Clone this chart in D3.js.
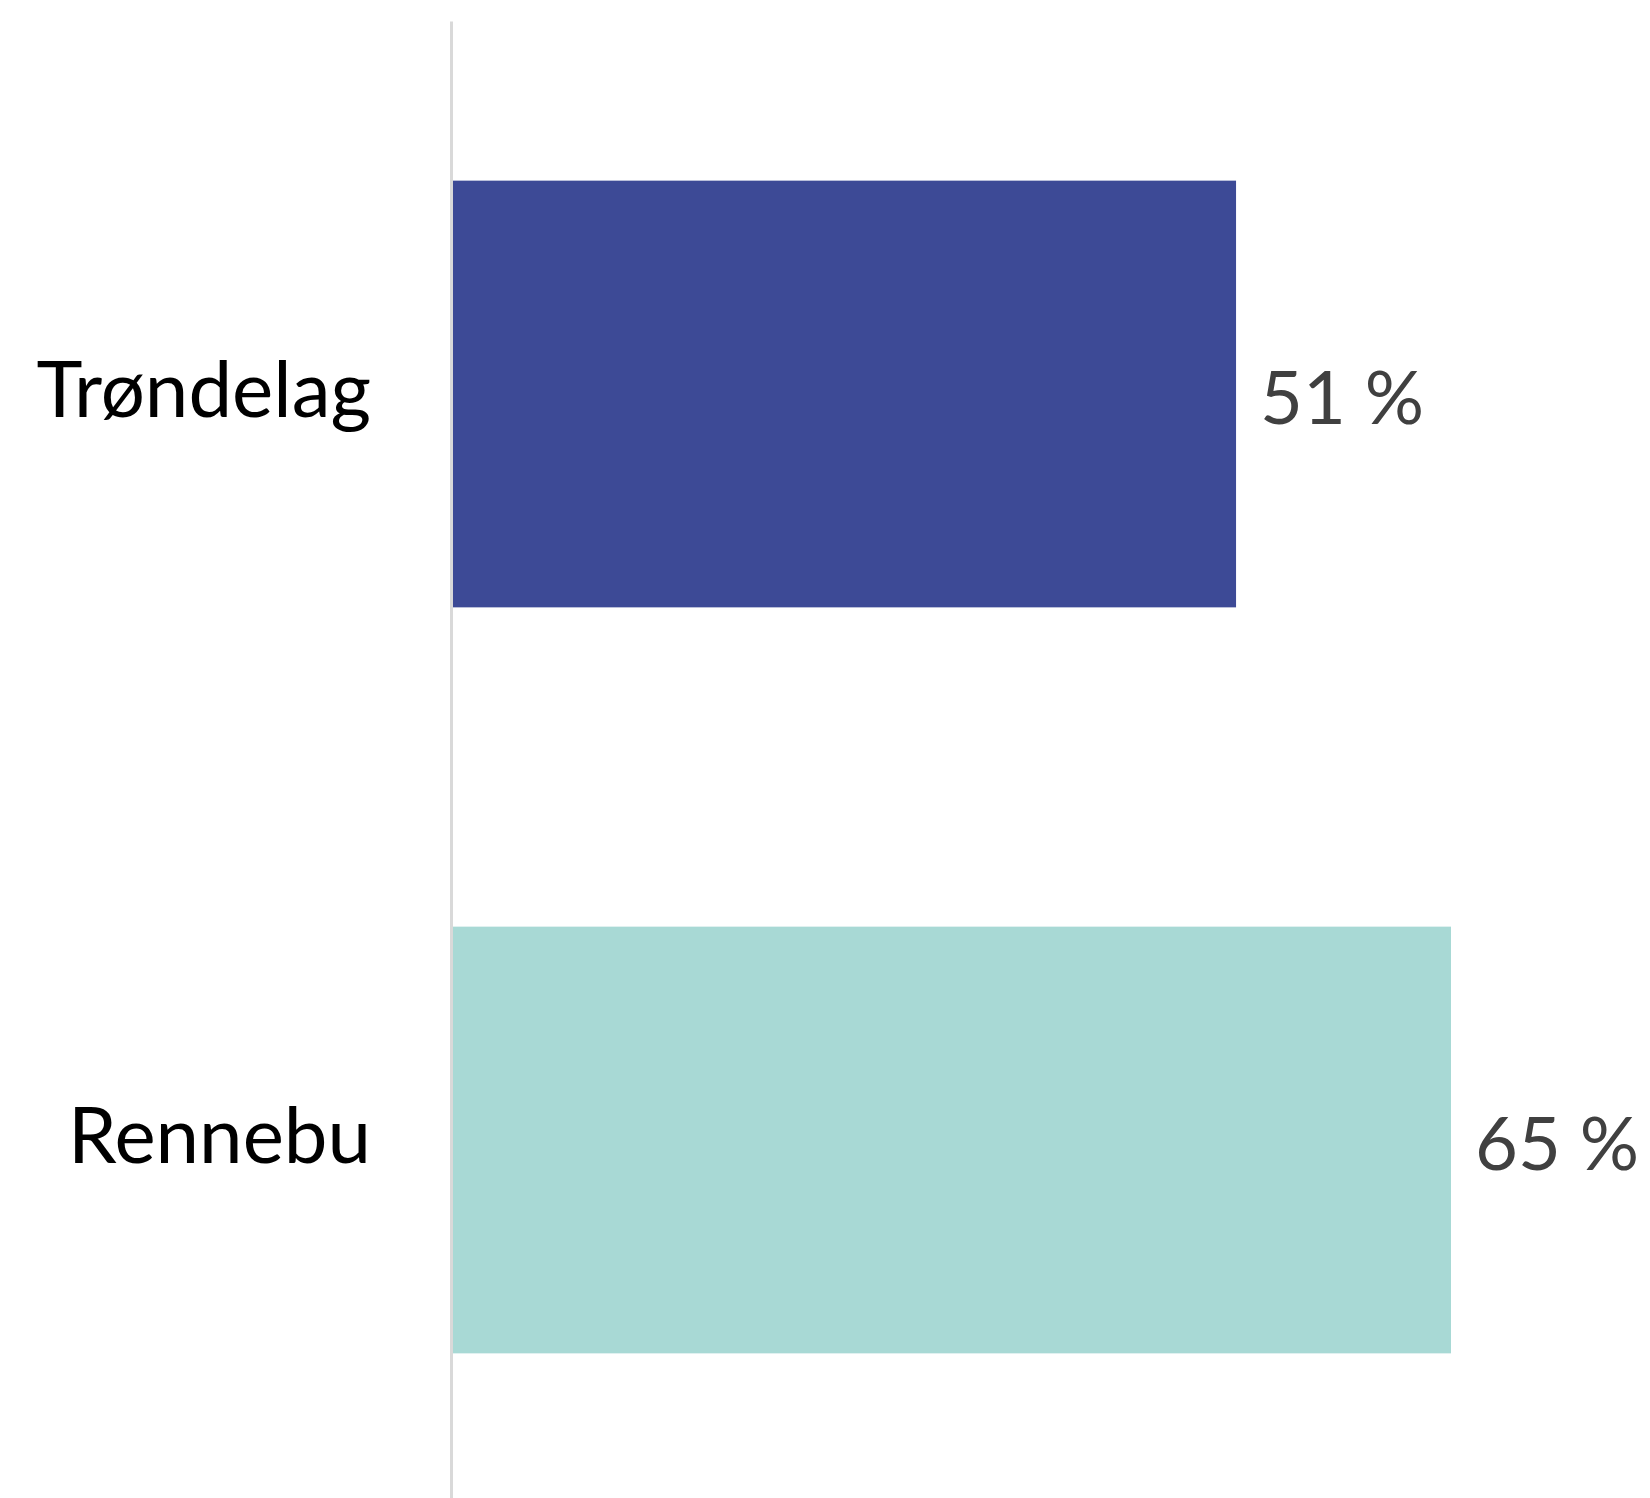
<!DOCTYPE html>
<meta charset="utf-8">
<style>
body {
  margin: 0;
  background-color: #ffffff;
}
.axis path {
  stroke: #D9D9D9;
  stroke-width: 3px;
}
.axis text {
  font-family: Lato, "Open Sans", sans-serif;
  font-size: 78px;
  fill: #000000;
}
.value {
  font-family: Lato, "Open Sans", sans-serif;
  font-size: 74px;
  fill: #404040;
}
</style>
<svg width="1650" height="1498"></svg>
<script src="https://d3js.org/d3.v7.min.js"></script>
<script>
var categories = ["Trøndelag", "Rennebu"];
var values = [51, 65];
var colors = ["#3D4A96", "#A8D9D5"];
var valueLabels = ["51 %", "65 %"];

var svg = d3.select("svg"),
    margin = {top: 21, right: 0, bottom: 0, left: 451},
    width = +svg.attr("width") - margin.left - margin.right;

var x = d3.scaleLinear().domain([0, 65]).range([2, 1000]);
var y = d3.scaleBand()
    .domain(categories)
    .range([0, 1492])
    .paddingInner(0.428)
    .paddingOuter(0.214);

var g = svg.append("g")
    .attr("transform", "translate(" + margin.left + "," + margin.top + ")");

var data = categories.map(function(c, i) {
  return {name: c, value: values[i], color: colors[i], label: valueLabels[i]};
});

g.selectAll(".bar")
    .data(data)
  .enter().append("rect")
    .attr("class", "bar")
    .attr("x", x(0))
    .attr("y", function(d) { return y(d.name); })
    .attr("width", function(d) { return x(d.value) - x(0); })
    .attr("height", y.bandwidth())
    .attr("fill", function(d) { return d.color; });

g.append("g")
    .attr("class", "axis")
    .call(d3.axisLeft(y).tickSize(0).tickSizeOuter(0).tickPadding(80))
    .call(function(a) { a.selectAll("text").attr("dy", "0.3em"); });

g.selectAll(".value")
    .data(data)
  .enter().append("text")
    .attr("class", "value")
    .attr("x", function(d) { return x(d.value) + 24; })
    .attr("y", function(d) { return y(d.name) + y.bandwidth() / 2; })
    .attr("dy", "0.4em")
    .text(function(d) { return d.label; });
</script>
